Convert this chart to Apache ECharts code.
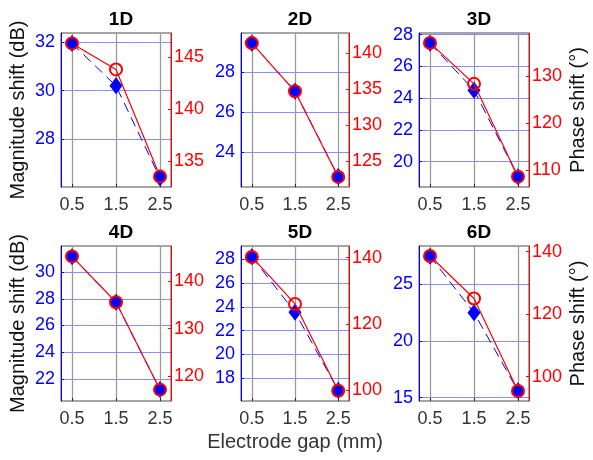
<!DOCTYPE html>
<html>
<head>
<meta charset="utf-8">
<script src="https://cdn.jsdelivr.net/npm/echarts@6/dist/echarts.min.js"></script>
<style>
  html, body { margin: 0; padding: 0; background: #fff; }
  #chart { width: 593px; height: 460px; }
</style>
</head>
<body>
<div id="chart"></div>
<script>
// Electrode gap values (mm) shared by all panels
const gaps = [0.5, 1.5, 2.5];
const gapTicks = [0.5, 1.5, 2.5];
const panelTitles = ['1D', '2D', '3D', '4D', '5D', '6D'];

// Magnitude shift (dB) per panel
const magnitude1D = [31.95, 30.2, 26.4];
const magnitude2D = [29.45, 27.05, 22.8];
const magnitude3D = [27.45, 24.5, 19.05];
const magnitude4D = [31.15, 27.75, 21.2];
const magnitude5D = [28.2, 23.55, 17.0];
const magnitude6D = [27.5, 22.5, 15.6];

// Phase shift (degrees) per panel
const phase1D = [146.3, 143.8, 133.5];
const phase2D = [141.4, 134.7, 122.8];
const phase3D = [137.1, 128.4, 108.7];
const phase4D = [145.3, 135.6, 117.1];
const phase5D = [140.2, 126.0, 99.8];
const phase6D = [138.6, 125.0, 95.4];

// Axis limits and tick values
const magnitudeLimits = [[26.03, 32.38], [22.27, 29.96], [18.4, 28.1], [20.34, 31.96], [16.1, 29.1], [14.7, 28.4]];
const phaseLimits = [[132.5, 147.3], [121.4, 142.8], [106.5, 139.2], [114.7, 147.5], [96.7, 143.5], [92.2, 141.8]];
const magnitudeTicks = [[28, 30, 32], [24, 26, 28], [20, 22, 24, 26, 28], [22, 24, 26, 28, 30], [18, 20, 22, 24, 26, 28], [15, 20, 25]];
const phaseTicks = [[135, 140, 145], [125, 130, 135, 140], [110, 120, 130], [120, 130, 140], [100, 120, 140], [100, 120, 140]];

const magnitudeSets = [magnitude1D, magnitude2D, magnitude3D, magnitude4D, magnitude5D, magnitude6D];
const phaseSets = [phase1D, phase2D, phase3D, phase4D, phase5D, phase6D];

// Panel layout (pixels)
const cols = [{ left: 61, width: 110 }, { left: 241, width: 108 }, { left: 419, width: 110 }];
const rows = [{ top: 33, height: 154 }, { top: 246, height: 155 }];

const BLUE = '#0000ff';
const RED = '#ff0000';
const DARK = '#262626';
const FONT = 'Liberation Sans';

const grids = [], xAxes = [], yAxes = [], series = [], titles = [];

for (let i = 0; i < 6; i++) {
  const col = cols[i % 3];
  const row = rows[Math.floor(i / 3)];
  grids.push({
    left: col.left, top: row.top, width: col.width, height: row.height,
    show: true, borderColor: '#4d4d4d', borderWidth: 1, containLabel: false
  });
  titles.push({
    text: panelTitles[i],
    left: col.left + col.width / 2,
    top: row.top - 28,
    textAlign: 'center',
    textStyle: { fontFamily: FONT, fontSize: 19, fontWeight: 'bold', color: '#000' }
  });

  xAxes.push({
    type: 'value', gridIndex: i, min: 0.25, max: 2.75,
    axisLine: { show: false },
    axisTick: { show: true, inside: true, length: 3, customValues: gapTicks, lineStyle: { color: DARK } },
    axisLabel: {
      customValues: gapTicks, color: '#333', fontSize: 18, fontFamily: FONT, margin: 9,
      formatter: v => v.toFixed(1)
    },
    splitLine: { show: true, lineStyle: { color: '#9a9a9a', width: 1.3 } },
    name: i === 4 ? 'Electrode gap (mm)' : '',
    nameLocation: 'middle', nameGap: 31,
    nameTextStyle: { fontFamily: FONT, fontSize: 20, color: '#333' }
  });

  const ml = magnitudeLimits[i];
  const pl = phaseLimits[i];
  yAxes.push({
    type: 'value', gridIndex: i, position: 'left', min: ml[0], max: ml[1],
    axisLine: { show: true, lineStyle: { color: BLUE, width: 1 } },
    axisTick: { show: true, inside: true, length: 3, customValues: magnitudeTicks[i], lineStyle: { color: BLUE } },
    axisLabel: { customValues: magnitudeTicks[i], color: BLUE, fontSize: 18, fontFamily: FONT, margin: 6 },
    splitLine: { show: true, lineStyle: { color: 'rgba(0,0,255,0.45)', width: 1.2 } },
    name: (i % 3 === 0) ? 'Magnitude shift (dB)' : '',
    nameLocation: 'middle', nameGap: 33, nameRotate: 90,
    nameTextStyle: { fontFamily: FONT, fontSize: 20, color: '#111' }
  });
  yAxes.push({
    type: 'value', gridIndex: i, position: 'right', min: pl[0], max: pl[1],
    axisLine: { show: true, lineStyle: { color: RED, width: 1 } },
    axisTick: { show: true, inside: true, length: 3, customValues: phaseTicks[i], lineStyle: { color: RED } },
    axisLabel: { customValues: phaseTicks[i], color: RED, fontSize: 18, fontFamily: FONT, margin: 3 },
    splitLine: { show: false },
    name: (i % 3 === 2) ? 'Phase shift (°)' : '',
    nameLocation: 'middle', nameGap: 39, nameRotate: 90,
    nameTextStyle: { fontFamily: FONT, fontSize: 20, color: '#111' }
  });

  const mag = magnitudeSets[i];
  const ph = phaseSets[i];

  // Magnitude: blue dashed line with filled diamonds
  series.push({
    type: 'line', xAxisIndex: i, yAxisIndex: 2 * i,
    data: gaps.map((g, k) => [g, mag[k]]),
    symbol: 'diamond', symbolSize: [13, 17],
    itemStyle: { color: BLUE },
    lineStyle: { color: BLUE, width: 1, type: [10, 6] },
    z: 2, silent: true
  });

  // Phase: red solid line with circles; a circle sitting on a magnitude point is filled blue
  series.push({
    type: 'line', xAxisIndex: i, yAxisIndex: 2 * i + 1,
    data: gaps.map((g, k) => {
      const pm = (mag[k] - ml[0]) / (ml[1] - ml[0]);
      const pp = (ph[k] - pl[0]) / (pl[1] - pl[0]);
      const overlap = Math.abs(pm - pp) * row.height < 4;
      return { value: [g, ph[k]], itemStyle: { color: overlap ? BLUE : 'rgba(0,0,0,0)', borderColor: RED, borderWidth: 2 } };
    }),
    symbol: 'circle', symbolSize: 12,
    lineStyle: { color: RED, width: 1.2 },
    z: 3, silent: true
  });
}

const chart = echarts.init(document.getElementById('chart'), null, { renderer: 'canvas' });
chart.setOption({
  animation: false,
  backgroundColor: '#fff',
  textStyle: { fontFamily: FONT },
  title: titles,
  grid: grids,
  xAxis: xAxes,
  yAxis: yAxes,
  series: series
});
</script>
</body>
</html>
